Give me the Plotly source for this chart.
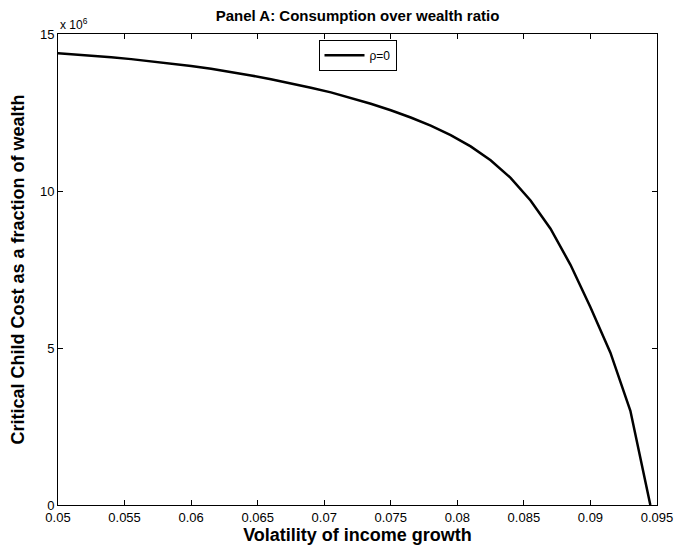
import plotly.graph_objects as go

sigma = [0.0495, 0.0510, 0.0525, 0.0540, 0.0555, 0.0570, 0.0585, 0.0600, 0.0615, 0.0630,
         0.0645, 0.0660, 0.0675, 0.0690, 0.0705, 0.0720, 0.0735, 0.0750, 0.0765, 0.0780,
         0.0795, 0.0810, 0.0825, 0.0840, 0.0855, 0.0870, 0.0885, 0.0900, 0.0915, 0.0930,
         0.0945]
cost = [14.40e6, 14.36e6, 14.31e6, 14.26e6, 14.20e6, 14.13e6, 14.06e6, 13.98e6, 13.89e6, 13.79e6,
        13.68e6, 13.56e6, 13.43e6, 13.29e6, 13.14e6, 12.97e6, 12.78e6, 12.57e6, 12.34e6, 12.08e6,
        11.78e6, 11.42e6, 10.98e6, 10.42e6, 9.70e6, 8.80e6, 7.65e6, 6.30e6, 4.85e6, 3.00e6,
        0.0]
xticks = [0.05, 0.055, 0.06, 0.065, 0.07, 0.075, 0.08, 0.085, 0.09, 0.095]
xticklabels = ["0.05", "0.055", "0.06", "0.065", "0.07", "0.075", "0.08", "0.085", "0.09", "0.095"]
yticks = [0, 5e6, 10e6, 15e6]
yticklabels = ["0", "5", "10", "15"]

FONT = "Liberation Sans, Arial, Helvetica, sans-serif"

fig = go.Figure()
fig.add_trace(go.Scatter(x=sigma, y=cost, mode="lines", name="ρ=0",
                         line=dict(color="black", width=2.5)))

axis_common = dict(showline=True, linecolor="black", linewidth=1, mirror="allticks",
                   ticks="inside", ticklen=5, tickcolor="black", tickwidth=1,
                   showgrid=False, zeroline=False,
                   tickfont=dict(family=FONT, size=13, color="black"))

fig.update_xaxes(range=[0.05, 0.095], tickvals=xticks, ticktext=xticklabels,
                 title=dict(text="<b>Volatility of income growth</b>",
                            font=dict(family=FONT, size=18, color="black"), standoff=1),
                 **axis_common)
fig.update_yaxes(range=[0, 15e6], tickvals=yticks, ticktext=yticklabels,
                 title=dict(text="<b>Critical Child Cost as a fraction of wealth</b>",
                            font=dict(family=FONT, size=18, color="black"), standoff=10),
                 **axis_common)

fig.update_layout(
    width=685, height=550,
    margin=dict(l=58, r=21, t=34, b=43),
    paper_bgcolor="white", plot_bgcolor="white",
    title=dict(text="<b>Panel A: Consumption over wealth ratio</b>",
               font=dict(family=FONT, size=15, color="black"),
               x=0.5, xref="paper", xanchor="center", y=0.972, yanchor="middle"),
    showlegend=True,
    legend=dict(x=0.5, xanchor="center", y=0.988, yanchor="top",
                bordercolor="black", borderwidth=1, bgcolor="white",
                font=dict(family=FONT, size=12, color="black"),
                itemwidth=40),
    annotations=[dict(text="x 10<sup>6</sup>", xref="paper", yref="paper",
                      x=0.0, y=1.0, xanchor="left", yanchor="bottom",
                      showarrow=False, font=dict(family=FONT, size=12, color="black"))],
)

fig.write_html("out.html")
